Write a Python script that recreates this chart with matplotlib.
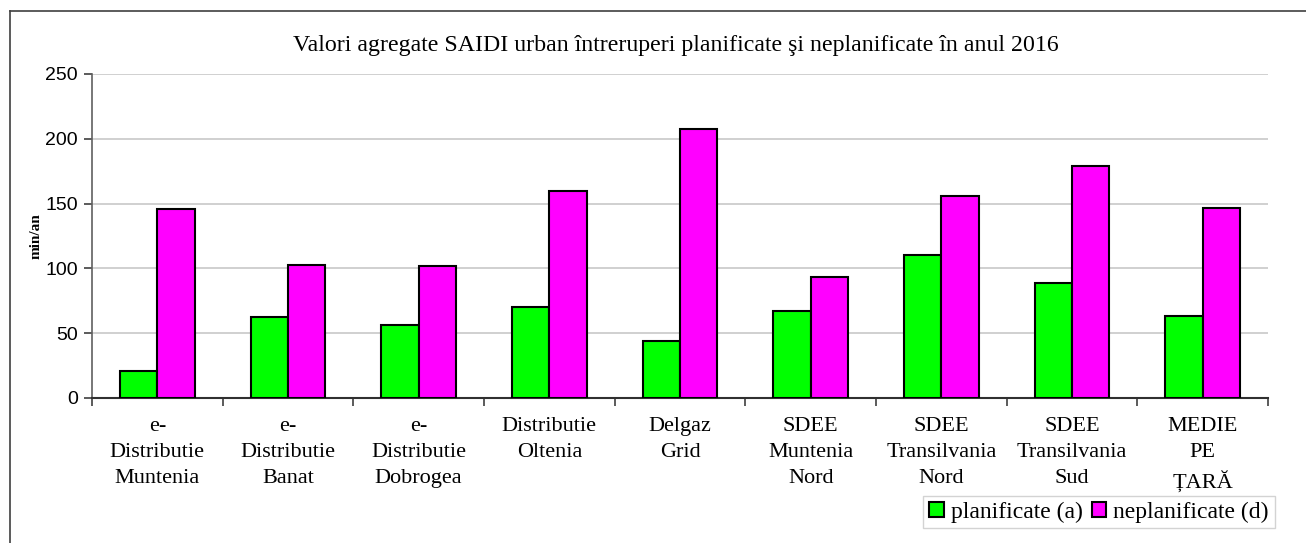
import matplotlib
matplotlib.use("Agg")
import matplotlib.pyplot as plt
import numpy as np
from matplotlib.lines import Line2D

categories = ["e-\nDistributie\nMuntenia", "e-\nDistributie\nBanat", "e-\nDistributie\nDobrogea",
              "Distributie\nOltenia", "Delgaz\nGrid", "SDEE\nMuntenia\nNord",
              "SDEE\nTransilvania\nNord", "SDEE\nTransilvania\nSud", "MEDIE\nPE\nȚARĂ"]
planificate = [21, 62.5, 56.5, 70, 44, 67, 110.5, 89, 63]
neplanificate = [146, 103, 102, 159.5, 207.5, 93, 155.5, 179, 146.5]
yticks = [0, 50, 100, 150, 200, 250]

serif = ["Liberation Serif", "DejaVu Serif"]
sans = ["Liberation Sans", "DejaVu Sans"]

fig = plt.figure(figsize=(13.06, 5.43), dpi=100)
ax = fig.add_axes([92/1306, 1-398/543, (1268-92)/1306, (398-74)/543])

x = np.arange(len(categories))
w = 0.286
ax.bar(x - w/2, planificate, w, color="#00FF00", edgecolor="black", linewidth=1.5,
       label="planificate (a)", zorder=3)
ax.bar(x + w/2, neplanificate, w, color="#FF00FF", edgecolor="black", linewidth=1.5,
       label="neplanificate (d)", zorder=3)

ax.set_xlim(-0.5, len(categories) - 0.5)
ax.set_ylim(0, 250)
ax.set_yticks(yticks)
ax.set_yticklabels([str(v) for v in yticks], fontfamily=sans, fontsize=14)
ax.yaxis.grid(True, color="#c8c8c8", linewidth=1.2, zorder=0)
ax.set_axisbelow(True)

ax.set_xticks(np.arange(-0.5, len(categories), 1.0))
ax.set_xticklabels([])
ax.set_xticks(x, minor=True)
ax.set_xticklabels(categories, minor=True, fontfamily=serif, fontsize=16, linespacing=1.48)
ax.tick_params(axis="x", which="minor", length=0, pad=14)
ax.tick_params(axis="x", which="major", length=6, color="#404040", width=1.2)
ax.tick_params(axis="y", length=6, color="#404040", width=1.2, pad=4)

for s in ["top", "right"]:
    ax.spines[s].set_visible(False)
ax.spines["left"].set_color("#606060")
ax.spines["left"].set_linewidth(1.2)
ax.spines["bottom"].set_color("#303030")
ax.spines["bottom"].set_linewidth(1.5)

ax.set_ylabel("min/an", fontfamily=serif, fontsize=11, fontweight="bold", labelpad=2)

fig.text(676/1306, 1-45/543, "Valori agregate SAIDI urban întreruperi planificate şi neplanificate în anul 2016",
         ha="center", va="center", fontfamily=serif, fontsize=17.2)

leg = fig.legend(loc="center", bbox_to_anchor=(1099/1306, 1-512/543), ncol=2,
                 prop={"family": serif, "size": 17}, frameon=True, fancybox=False,
                 edgecolor="#c8c8c8", handlelength=0.6, handleheight=0.6,
                 handletextpad=0.3, columnspacing=0.4, borderpad=0.25, borderaxespad=0)
leg.get_frame().set_linewidth(1.0)

# outer border (left and top visible)
fig.add_artist(Line2D([10/1306, 10/1306], [0, 1-11/543], color="#404040", linewidth=1.2))
fig.add_artist(Line2D([10/1306, 1], [1-11/543, 1-11/543], color="#404040", linewidth=1.2))

fig.savefig("out.png", dpi=100)
